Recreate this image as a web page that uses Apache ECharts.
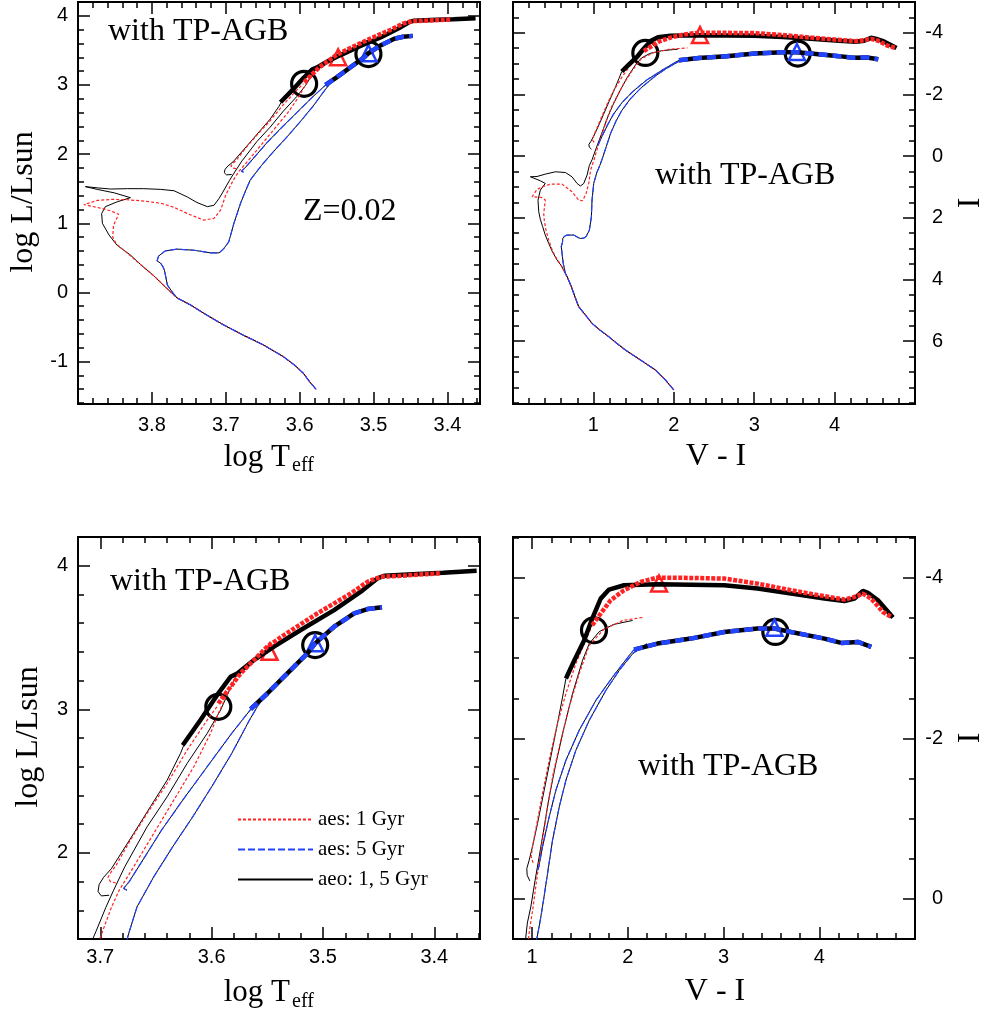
<!DOCTYPE html>
<html><head><meta charset="utf-8">
<script src="https://cdn.jsdelivr.net/npm/echarts@6/dist/echarts.min.js"></script>
<style>html,body{margin:0;padding:0;background:#fff}#c{width:987px;height:1016px}</style>
</head><body><div id="c"></div>
<script>
// ---------------- DATA: HR diagram (log Teff, log L/Lsun) ----------------
const hrdMainSeq = [[3.578,-1.40],[3.586,-1.30],[3.595,-1.17],[3.606,-1.06],[3.622,-0.93],[3.649,-0.76],[3.676,-0.62],[3.703,-0.47],[3.727,-0.32],[3.748,-0.18],[3.766,-0.08]];
const hrdAeo1Upper = [[3.782,0.08],[3.797,0.236],[3.815,0.40],[3.829,0.54],[3.847,0.68],[3.858,0.83],[3.867,1.0],[3.868,1.14],[3.863,1.24],[3.847,1.31],[3.829,1.37],[3.851,1.44],[3.874,1.49],[3.89,1.53],[3.872,1.51],[3.856,1.495],[3.833,1.50],[3.811,1.50],[3.788,1.49],[3.77,1.47],[3.752,1.38],[3.739,1.30],[3.725,1.24],[3.716,1.26],[3.709,1.36],[3.704,1.45],[3.695,1.62],[3.688,1.74],[3.678,1.903],[3.658,2.181],[3.64,2.39],[3.622,2.623],[3.604,2.832],[3.592,2.994],[3.583,3.15],[3.577,3.25]];
const hrdAes1Upper = [[3.782,0.08],[3.797,0.236],[3.815,0.40],[3.838,0.61],[3.848,0.70],[3.853,0.80],[3.852,0.97],[3.845,1.13],[3.856,1.18],[3.870,1.22],[3.892,1.27],[3.874,1.33],[3.855,1.345],[3.833,1.34],[3.81,1.32],[3.788,1.29],[3.77,1.23],[3.752,1.14],[3.73,1.045],[3.716,1.07],[3.707,1.19],[3.70,1.41],[3.69,1.62],[3.683,1.74],[3.67,1.903],[3.652,2.135],[3.634,2.367],[3.616,2.6],[3.601,2.832],[3.594,2.971],[3.585,3.12],[3.577,3.25]];
const hrdAes1Early = [[3.686,1.79],[3.691,1.80],[3.693,1.83],[3.69,1.87],[3.686,1.91],[3.673,2.088],[3.658,2.274],[3.64,2.483],[3.622,2.716],[3.604,2.925],[3.595,3.02]];
const hrdAeo1Early = [[3.692,1.705],[3.699,1.70],[3.702,1.73],[3.701,1.78],[3.697,1.83],[3.69,1.89],[3.67,2.135],[3.655,2.321],[3.64,2.506],[3.628,2.692],[3.625,2.75]];
const hrd5Upper = [[3.772,0.0],[3.779,0.105],[3.783,0.32],[3.785,0.37],[3.788,0.42],[3.793,0.457],[3.791,0.525],[3.782,0.60],[3.766,0.626],[3.743,0.61],[3.721,0.572],[3.709,0.572],[3.703,0.63],[3.696,0.73],[3.689,1.0],[3.68,1.29],[3.674,1.45],[3.667,1.624],[3.652,1.833],[3.635,2.042],[3.617,2.251],[3.600,2.46],[3.582,2.692],[3.566,2.925],[3.559,3.018],[3.552,3.1]];
const hrd5Early = [[3.676,1.74],[3.679,1.752],[3.674,1.80],[3.66,1.972],[3.645,2.158],[3.626,2.367],[3.604,2.6],[3.582,2.832],[3.563,3.018]];
const hrdAeo1TP = [[3.626,2.75],[3.61,2.925],[3.595,3.10],[3.583,3.226],[3.577,3.25],[3.562,3.343],[3.544,3.436],[3.52,3.552],[3.49,3.691],[3.466,3.819],[3.451,3.912],[3.445,3.93],[3.415,3.942],[3.392,3.951],[3.362,3.965]];
const hrdAes1TP = [[3.594,3.04],[3.583,3.157],[3.574,3.25],[3.562,3.343],[3.55,3.436],[3.535,3.517],[3.505,3.668],[3.475,3.807],[3.46,3.888],[3.448,3.923],[3.43,3.93],[3.395,3.947]];
const hrd5TP = [[3.565,3.001],[3.55,3.11],[3.532,3.25],[3.514,3.389],[3.507,3.459],[3.49,3.575],[3.472,3.668],[3.46,3.698],[3.447,3.71]];
const hrdCircles = [[3.594,3.017],[3.507,3.447]];
const hrdRedTri = [[3.548,3.40]];
const hrdBlueTri = [[3.507,3.46]];

// ---------------- DATA: colour-magnitude diagram (V-I, I) ----------------
const cmdMainSeq = [[2.0,7.585],[1.896,7.261],[1.772,6.937],[1.647,6.72],[1.52,6.5],[1.398,6.289],[1.29,6.07],[1.191,5.856],[1.08,5.64],[0.983,5.424],[0.9,5.15],[0.817,4.884],[0.77,4.56],[0.726,4.236],[0.68,3.95],[0.651,3.80]];
const cmdAeo1Upper = [[0.6,3.55],[0.548,3.37],[0.49,3.1],[0.444,2.83],[0.4,2.55],[0.369,2.29],[0.34,2.05],[0.32,1.80],[0.311,1.43],[0.34,1.10],[0.402,0.886],[0.34,0.80],[0.299,0.756],[0.216,0.67],[0.299,0.66],[0.402,0.583],[0.527,0.508],[0.651,0.53],[0.734,0.67],[0.797,0.886],[0.838,0.97],[0.88,0.886],[0.921,0.616],[0.95,0.30],[0.986,0.1],[1.031,-0.233],[1.073,-0.523],[1.126,-0.897],[1.178,-1.271],[1.248,-1.686],[1.335,-2.143],[1.422,-2.559],[1.527,-2.974],[1.597,-3.182],[1.7,-3.33],[1.85,-3.42],[2.05,-3.47]];
const cmdAes1Upper = [[0.6,3.55],[0.527,3.26],[0.48,3.0],[0.444,2.72],[0.41,2.4],[0.39,2.1],[0.382,1.858],[0.402,1.426],[0.353,1.34],[0.237,1.318],[0.299,1.08],[0.38,0.98],[0.465,0.908],[0.61,0.908],[0.734,1.156],[0.817,1.426],[0.867,1.448],[0.909,1.21],[0.942,0.886],[0.965,0.454],[1.01,0.1],[1.056,-0.316],[1.108,-0.731],[1.161,-1.146],[1.22,-1.562],[1.3,-1.977],[1.387,-2.393],[1.492,-2.808],[1.597,-3.161],[1.75,-3.36],[1.95,-3.47],[2.17,-3.51]];
const cmdAes1Early = [[1.01,-0.449],[0.99,-0.523],[1.003,-0.648],[1.056,-0.98],[1.115,-1.354],[1.185,-1.769],[1.265,-2.185],[1.353,-2.559],[1.457,-2.933],[1.545,-3.182],[1.628,-3.41]];
const cmdAeo1Early = [[0.976,-0.224],[0.948,-0.295],[0.944,-0.378],[0.969,-0.482],[1.003,-0.648],[1.056,-0.939],[1.126,-1.354],[1.195,-1.769],[1.265,-2.185],[1.318,-2.517],[1.353,-2.746]];
const cmd5Upper = [[0.625,3.48],[0.61,3.15],[0.60,2.94],[0.615,2.80],[0.62,2.66],[0.645,2.59],[0.672,2.561],[0.755,2.56],[0.81,2.64],[0.838,2.669],[0.88,2.66],[0.909,2.61],[0.95,2.4],[0.975,1.966],[0.983,1.426],[1.004,0.886],[1.04,0.55],[1.08,0.3],[1.108,0.1],[1.161,-0.316],[1.213,-0.731],[1.283,-1.146],[1.353,-1.479],[1.457,-1.852],[1.597,-2.226],[1.771,-2.6],[1.911,-2.849],[2.051,-3.057],[2.2,-3.18]];
const cmd5Early = [[1.056,-0.357],[1.07,-0.40],[1.108,-0.648],[1.178,-1.022],[1.248,-1.354],[1.353,-1.728],[1.492,-2.102],[1.667,-2.476],[1.841,-2.766],[2.016,-3.036],[2.065,-3.107]];
const cmdAeo1TP = [[1.353,-2.746],[1.44,-2.97],[1.544,-3.224],[1.63,-3.5],[1.716,-3.742],[1.803,-3.855],[1.96,-3.909],[2.309,-3.921],[3.007,-3.909],[3.356,-3.867],[3.705,-3.805],[4.054,-3.742],[4.263,-3.713],[4.368,-3.742],[4.455,-3.838],[4.508,-3.813],[4.613,-3.722],[4.77,-3.506]];
const cmdAes1TP = [[1.628,-3.41],[1.716,-3.556],[1.82,-3.722],[1.96,-3.846],[2.134,-3.95],[2.309,-4.004],[2.658,-4.0],[3.007,-3.992],[3.356,-3.929],[3.705,-3.846],[4.054,-3.772],[4.263,-3.73],[4.368,-3.763],[4.455,-3.805],[4.543,-3.742],[4.665,-3.576],[4.752,-3.514]];
const cmd5TP = [[2.065,-3.107],[2.309,-3.182],[2.658,-3.244],[3.007,-3.327],[3.356,-3.369],[3.531,-3.369],[3.705,-3.327],[4.054,-3.244],[4.229,-3.19],[4.403,-3.202],[4.543,-3.14]];
const cmdCircles = [[1.646,-3.348],[3.541,-3.327]];
const cmdRedTri = [[2.326,-3.93]];
const cmdBlueTri = [[3.531,-3.38]];

// ---------------- tick labels ----------------
const tlXTicks = [3.4,3.5,3.6,3.7,3.8];
const tlYTicks = [-1,0,1,2,3,4];
const trXTicks = [1,2,3,4];
const trYTicks = [-4,-2,0,2,4,6];
const blXTicks = [3.4,3.5,3.6,3.7];
const blYTicks = [2,3,4];
const brXTicks = [1,2,3,4];
const brYTicks = [-4,-2,0];
const legendNames = ['aes: 1 Gyr','aes: 5 Gyr','aeo: 1, 5 Gyr'];

// ---------------- build ----------------
const RED = '#ff2222', BLUE = '#2244ff', BLACK = '#000';
const SANS = '"Liberation Sans", Arial, sans-serif';
const SERIF = '"Liberation Serif", "Times New Roman", serif';

function steps(a, b, s) {
  const out = [];
  for (let k = Math.ceil(a / s - 1e-6); k * s <= b + 1e-6; k++) out.push(+(k * s).toFixed(4));
  return out;
}

const sets = {
  hrd: {
    aeo1: hrdMainSeq.concat(hrdAeo1Upper), aes1: hrdMainSeq.concat(hrdAes1Upper),
    five: hrdMainSeq.concat(hrd5Upper), aeo1e: hrdAeo1Early, aes1e: hrdAes1Early, fivee: hrd5Early,
    aeo1TP: hrdAeo1TP, aes1TP: hrdAes1TP, fiveTP: hrd5TP,
    circ: hrdCircles, rtri: hrdRedTri, btri: hrdBlueTri
  },
  cmd: {
    aeo1: cmdMainSeq.concat(cmdAeo1Upper), aes1: cmdMainSeq.concat(cmdAes1Upper),
    five: cmdMainSeq.concat(cmd5Upper), aeo1e: cmdAeo1Early, aes1e: cmdAes1Early, fivee: cmd5Early,
    aeo1TP: cmdAeo1TP, aes1TP: cmdAes1TP, fiveTP: cmd5TP,
    circ: cmdCircles, rtri: cmdRedTri, btri: cmdBlueTri
  }
};

const panels = [
  { kind:'hrd', grid:{left:78, top:2, width:402, height:402},
    x:{min:3.356, max:3.9, inverse:true, major:tlXTicks, minor:steps(3.36,3.88,0.02), margin:11},
    y:{min:-1.614, max:4.2, inverse:false, major:tlYTicks, minor:steps(-1.6,4.2,0.2), side:'left', margin:10} },
  { kind:'cmd', grid:{left:513, top:2, width:402, height:402},
    x:{min:0, max:5.0, inverse:false, major:trXTicks, minor:steps(0.2,4.8,0.2), margin:11},
    y:{min:-5.0, max:8.04, inverse:true, major:trYTicks, minor:steps(-4.5,8,0.5), side:'right', margin:28, align:'right'} },
  { kind:'hrd', grid:{left:78, top:537, width:402, height:402},
    x:{min:3.359, max:3.72, inverse:true, major:blXTicks, minor:steps(3.36,3.72,0.02), margin:8},
    y:{min:1.4, max:4.2, inverse:false, major:blYTicks, minor:steps(1.4,4.2,0.2), side:'left', margin:10} },
  { kind:'cmd', grid:{left:513, top:537, width:402, height:402},
    x:{min:0.8, max:5.0, inverse:false, major:brXTicks, minor:steps(0.8,5.0,0.2), margin:8},
    y:{min:-4.51, max:0.5, inverse:true, major:brYTicks, minor:steps(-4.5,0.5,0.5), side:'right', margin:28, align:'right'} }
];

const grids = [], xAxes = [], yAxes = [];
function addAxes(list, dim, gi, p) {
  const sides = dim === 'x' ? ['bottom','top'] : ['left','right'];
  const labelSide = dim === 'x' ? 'bottom' : p.side;
  [labelSide, sides.find(s => s !== labelSide)].forEach(side => {
    [true, false].forEach(isMajor => {
      const showLabel = isMajor && side === labelSide;
      const ax = {
        type:'value', gridIndex:gi, position:side, min:p.min, max:p.max, inverse:p.inverse,
        axisLine:{show:false, onZero:false}, splitLine:{show:false}, silent:true,
        axisTick:{show:true, inside:true, length:isMajor ? 12 : 6, customValues:isMajor ? p.major : p.minor,
                  lineStyle:{color:'#000', width:1.5}},
        axisLabel:{show:false}
      };
      if (showLabel) {
        ax.axisLabel = {show:true, customValues:p.major, margin:p.margin, fontSize:20,
                        fontFamily:SANS, color:'#000'};
        if (p.align) ax.axisLabel.align = p.align;
      }
      list.push(ax);
    });
  });
}

const series = [];
function ln(gi, name, data, color, width, type) {
  series.push({ type:'line', name, data, xAxisIndex:gi*4, yAxisIndex:gi*4, symbol:'none', showSymbol:false,
    lineStyle:{color, width, type}, itemStyle:{color}, animation:false, silent:true, clip:true });
}
function sc(gi, name, data, symbol, size, color, bw) {
  series.push({ type:'scatter', name, data, xAxisIndex:gi*4, yAxisIndex:gi*4, symbol, symbolSize:size,
    itemStyle:{color:'rgba(0,0,0,0)', borderColor:color, borderWidth:bw, opacity:1}, animation:false, silent:true, clip:true });
}

panels.forEach((p, gi) => {
  grids.push(Object.assign({show:true, borderColor:'#000', borderWidth:2, backgroundColor:'transparent', containLabel:false}, p.grid));
  addAxes(xAxes, 'x', gi, p.x);
  addAxes(yAxes, 'y', gi, p.y);
});

// thin lines (black first, coloured dashed on top)
panels.forEach((p, gi) => {
  const d = sets[p.kind];
  ln(gi, 'aeo: 1, 5 Gyr', d.aeo1, BLACK, 1, 'solid');
  ln(gi, 'aeo: 1, 5 Gyr', d.aeo1e, BLACK, 1, 'solid');
  ln(gi, 'aeo: 1, 5 Gyr', d.five, BLACK, 1, 'solid');
  ln(gi, 'aeo: 1, 5 Gyr', d.fivee, BLACK, 1, 'solid');
});
panels.forEach((p, gi) => {
  const d = sets[p.kind];
  ln(gi, 'aes: 1 Gyr', d.aes1, RED, 1.2, [3,2]);
  ln(gi, 'aes: 1 Gyr', d.aes1e, RED, 1.2, [3,2]);
  ln(gi, 'aes: 5 Gyr', d.five, BLUE, 1.2, [7,3]);
  ln(gi, 'aes: 5 Gyr', d.fivee, BLUE, 1.2, [7,3]);
});
// thick TP-AGB parts and markers
panels.forEach((p, gi) => {
  const d = sets[p.kind];
  ln(gi, 'aeo 1 Gyr TP-AGB', d.aeo1TP, BLACK, 4.5, 'solid');
  ln(gi, 'aeo 5 Gyr TP-AGB', d.fiveTP, BLACK, 4.5, 'solid');
  ln(gi, 'aes 1 Gyr TP-AGB', d.aes1TP, RED, 4.5, [4,1.5]);
  ln(gi, 'aes 5 Gyr TP-AGB', d.fiveTP, BLUE, 4.5, [9,5]);
  sc(gi, 'start', d.circ, 'circle', 25, BLACK, 3.2);
  sc(gi, 'aes 1 Gyr mark', d.rtri, 'triangle', 16, RED, 2.5);
  sc(gi, 'aes 5 Gyr mark', d.btri, 'triangle', 16, BLUE, 2.5);
});

function txt(x, y, text, size, opts) {
  return Object.assign({ type:'text', x, y, silent:true, z:100,
    style:{ text, fontSize:size, fontFamily:SERIF, fill:'#000', align:'left', verticalAlign:'middle' } }, opts || {});
}
const graphics = [
  txt(108, 32, 'with TP-AGB', 32),
  txt(303, 212, 'Z=0.02', 32),
  txt(655, 176, 'with TP-AGB', 32),
  txt(110, 582, 'with TP-AGB', 32),
  txt(638, 767, 'with TP-AGB', 32),
];
function center(g){ g.style.align = 'center'; return g; }
function right(g){ g.style.align = 'right'; return g; }
graphics.push(center(txt(24, 202, 'log L/Lsun', 32, {rotation:Math.PI/2})));
graphics.push(center(txt(29, 737, 'log L/Lsun', 32, {rotation:Math.PI/2})));
graphics.push(right(txt(290, 458, 'log T', 31)));
graphics.push(txt(292, 466, 'eff', 20));
graphics.push(right(txt(290, 993, 'log T', 31)));
graphics.push(txt(292, 1002, 'eff', 20));
graphics.push(center(txt(716, 457, 'V - I', 32)));
graphics.push(center(txt(715, 992, 'V - I', 32)));
graphics.push(center(txt(971, 203, 'I', 32, {rotation:Math.PI/2})));
graphics.push(center(txt(971, 738, 'I', 32, {rotation:Math.PI/2})));

const chart = echarts.init(document.getElementById('c'), null, {renderer:'canvas'});
chart.setOption({
  animation:false,
  backgroundColor:'#fff',
  grid: grids,
  xAxis: xAxes,
  yAxis: yAxes,
  legend: { data: legendNames, orient:'vertical', left:232, top:804, itemWidth:75, itemHeight:14, itemGap:9,
            selectedMode:false, itemStyle:{opacity:0},
            textStyle:{fontFamily:SERIF, fontSize:21, color:'#000'}, padding:5 },
  graphic: graphics,
  series
});
</script></body></html>
